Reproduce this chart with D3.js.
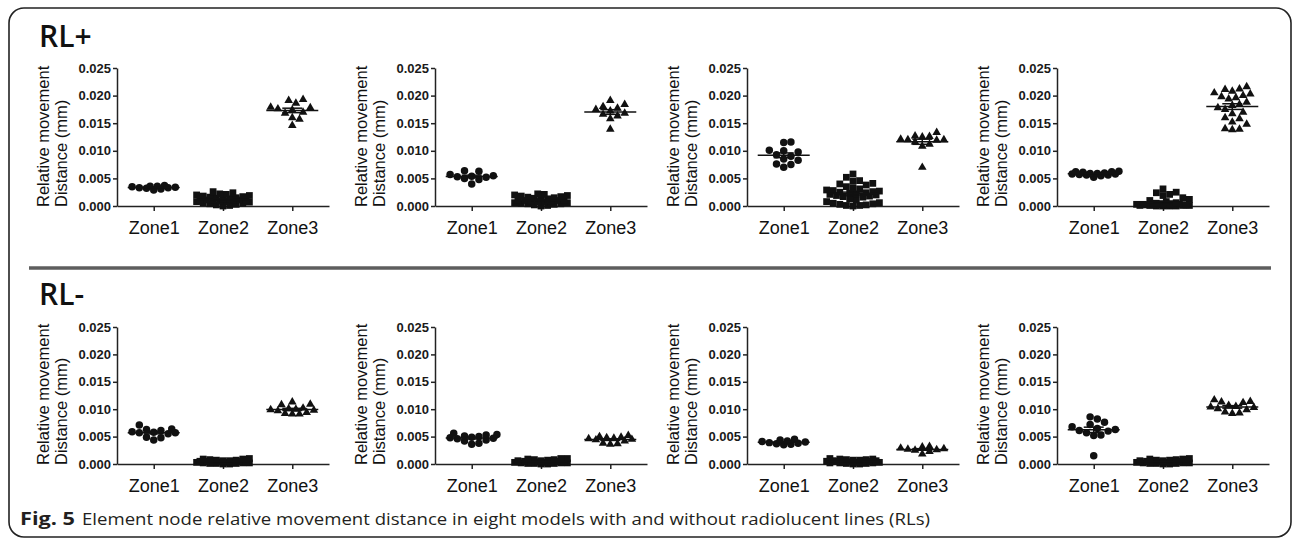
<!DOCTYPE html>
<html>
<head>
<meta charset="utf-8">
<script src="https://cdn.jsdelivr.net/npm/d3@7"></script>
<style>
  body { margin: 0; background: #fff; }
  svg { display: block; }
</style>
</head>
<body>
<div id="fig"></div>
<script>
// ---- labels ----
const zones = ["Zone1", "Zone2", "Zone3"];
const yTicks = [0, 0.005, 0.010, 0.015, 0.020, 0.025];
const rowTitles = ["RL+", "RL-"];
const yTitleLines = ["Relative movement", "Distance (mm)"];
const captionBold = "Fig. 5";
const captionText = "Element node relative movement distance in eight models with and without radiolucent lines (RLs)";

// ---- RL+ models (mm) ----
const rlp1Zone1 = [0.0033, 0.0034, 0.0036, 0.0031, 0.0029, 0.0035, 0.0037, 0.0033, 0.0032, 0.0036];
const rlp1Zone2 = [0.0026, 0.0024, 0.0022, 0.0021, 0.0020, 0.0019, 0.0018, 0.0017, 0.0016, 0.0015, 0.0014, 0.0013, 0.0013, 0.0012, 0.0012,
                   0.0011, 0.0011, 0.0010, 0.0010, 0.0009, 0.0008, 0.0008, 0.0007, 0.0006, 0.0005, 0.0004, 0.0003, 0.0002, 0.0001, 0.0000];
const rlp1Zone3 = [0.0193, 0.0191, 0.0186, 0.0179, 0.0178, 0.0176, 0.0174, 0.0170, 0.0168, 0.0160, 0.0157, 0.0146];

const rlp2Zone1 = [0.0064, 0.0063, 0.0057, 0.0055, 0.0054, 0.0053, 0.0052, 0.0050, 0.0048, 0.0040];
const rlp2Zone2 = [0.0022, 0.0021, 0.0020, 0.0019, 0.0018, 0.0017, 0.0016, 0.0015, 0.0014, 0.0013, 0.0012, 0.0011, 0.0011, 0.0010,
                   0.0010, 0.0009, 0.0009, 0.0008, 0.0007, 0.0006, 0.0006, 0.0005, 0.0004, 0.0004, 0.0003, 0.0002, 0.0001, 0.0000];
const rlp2Zone3 = [0.0191, 0.0184, 0.0180, 0.0177, 0.0175, 0.0172, 0.0168, 0.0166, 0.0163, 0.0158, 0.0139];

const rlp3Zone1 = [0.0116, 0.0115, 0.0101, 0.0100, 0.0098, 0.0093, 0.0090, 0.0085, 0.0083, 0.0076, 0.0075, 0.0070];
const rlp3Zone2 = [0.0058, 0.0052, 0.0046, 0.0045, 0.0041, 0.0040, 0.0038, 0.0035, 0.0033, 0.0031, 0.0029, 0.0028, 0.0027, 0.0026, 0.0025,
                   0.0024, 0.0023, 0.0022, 0.0021, 0.0020, 0.0019, 0.0018, 0.0017, 0.0016, 0.0013, 0.0011, 0.0008, 0.0006, 0.0005, 0.0004,
                   0.0003, 0.0002, 0.0001, 0.0001, 0.0000];
const rlp3Zone3 = [0.0133, 0.0127, 0.0126, 0.0125, 0.0121, 0.0120, 0.0120, 0.0119, 0.0116, 0.0112, 0.0108, 0.0070];

const rlp4Zone1 = [0.0063, 0.0062, 0.0062, 0.0061, 0.0060, 0.0059, 0.0059, 0.0058, 0.0057, 0.0056, 0.0055, 0.0056, 0.0058, 0.0052];
const rlp4Zone2 = [0.0031, 0.0025, 0.0024, 0.0021, 0.0019, 0.0015, 0.0012, 0.0010, 0.0008, 0.0006, 0.0005, 0.0004, 0.0004, 0.0003, 0.0003,
                   0.0002, 0.0002, 0.0002, 0.0001, 0.0001, 0.0001, 0.0000, 0.0000, 0.0000, 0.0001, 0.0002, 0.0003, 0.0000, 0.0001, 0.0002];
const rlp4Zone3 = [0.0216, 0.0212, 0.0211, 0.0208, 0.0205, 0.0203, 0.0200, 0.0198, 0.0196, 0.0194, 0.0188, 0.0184,
                   0.0182, 0.0178, 0.0175, 0.0170, 0.0167, 0.0160, 0.0158, 0.0152, 0.0148, 0.0140, 0.0139, 0.0138];

// ---- RL- models ----
const rlm1Zone1 = [0.0071, 0.0064, 0.0063, 0.0061, 0.0059, 0.0058, 0.0057, 0.0057, 0.0055, 0.0049, 0.0048, 0.0044];
const rlm1Zone2 = [0.0010, 0.0009, 0.0009, 0.0008, 0.0007, 0.0007, 0.0006, 0.0006, 0.0005, 0.0005, 0.0005, 0.0004, 0.0004,
                   0.0004, 0.0003, 0.0003, 0.0003, 0.0002, 0.0002, 0.0002, 0.0001, 0.0001, 0.0001, 0.0000, 0.0000];
const rlm1Zone3 = [0.0113, 0.0109, 0.0108, 0.0102, 0.0101, 0.0100, 0.0099, 0.0098, 0.0097, 0.0094, 0.0092, 0.0091, 0.0091];

const rlm2Zone1 = [0.0056, 0.0054, 0.0053, 0.0051, 0.0050, 0.0049, 0.0048, 0.0047, 0.0046, 0.0044, 0.0042, 0.0038, 0.0036];
const rlm2Zone2 = [0.0010, 0.0010, 0.0009, 0.0008, 0.0008, 0.0007, 0.0006, 0.0006, 0.0005, 0.0005, 0.0004, 0.0004, 0.0004,
                   0.0003, 0.0003, 0.0003, 0.0002, 0.0002, 0.0002, 0.0001, 0.0001, 0.0001, 0.0000, 0.0000];
const rlm2Zone3 = [0.0052, 0.0050, 0.0049, 0.0048, 0.0047, 0.0046, 0.0045, 0.0044, 0.0042, 0.0038, 0.0037, 0.0036];

const rlm3Zone1 = [0.0045, 0.0044, 0.0042, 0.0041, 0.0040, 0.0039, 0.0038, 0.0037, 0.0036, 0.0035];
const rlm3Zone2 = [0.0010, 0.0009, 0.0009, 0.0008, 0.0008, 0.0007, 0.0007, 0.0006, 0.0006, 0.0005, 0.0005, 0.0005, 0.0004,
                   0.0004, 0.0003, 0.0003, 0.0003, 0.0002, 0.0002, 0.0002, 0.0001, 0.0001, 0.0000, 0.0000];
const rlm3Zone3 = [0.0032, 0.0031, 0.0029, 0.0028, 0.0027, 0.0026, 0.0025, 0.0023, 0.0018];

const rlm4Zone1 = [0.0086, 0.0082, 0.0076, 0.0072, 0.0068, 0.0065, 0.0063, 0.0061, 0.0060, 0.0057, 0.0053, 0.0052, 0.0015];
const rlm4Zone2 = [0.0010, 0.0009, 0.0009, 0.0008, 0.0007, 0.0007, 0.0006, 0.0006, 0.0005, 0.0005, 0.0004, 0.0004, 0.0004,
                   0.0003, 0.0003, 0.0003, 0.0002, 0.0002, 0.0002, 0.0001, 0.0001, 0.0001, 0.0000, 0.0000];
const rlm4Zone3 = [0.0117, 0.0114, 0.0113, 0.0112, 0.0107, 0.0105, 0.0104, 0.0103, 0.0101, 0.0099, 0.0095, 0.0093, 0.0092];

const panels = [
  { row: 0, col: 0, groups: [rlp1Zone1, rlp1Zone2, rlp1Zone3] },
  { row: 0, col: 1, groups: [rlp2Zone1, rlp2Zone2, rlp2Zone3] },
  { row: 0, col: 2, groups: [rlp3Zone1, rlp3Zone2, rlp3Zone3] },
  { row: 0, col: 3, groups: [rlp4Zone1, rlp4Zone2, rlp4Zone3] },
  { row: 1, col: 0, groups: [rlm1Zone1, rlm1Zone2, rlm1Zone3] },
  { row: 1, col: 1, groups: [rlm2Zone1, rlm2Zone2, rlm2Zone3] },
  { row: 1, col: 2, groups: [rlm3Zone1, rlm3Zone2, rlm3Zone3] },
  { row: 1, col: 3, groups: [rlm4Zone1, rlm4Zone2, rlm4Zone3] }
];

// ---- layout ----
const W = 1292, H = 542;
const colX = [117, 435, 747, 1057];
const rowTop = [68, 327], rowBot = [206, 464];
const plotW = 212;
const axisFont = "'Liberation Sans', Arial, sans-serif";
const ink = "#111";

const svg = d3.select("#fig").append("svg").attr("width", W).attr("height", H);
svg.append("rect").attr("width", W).attr("height", H).attr("fill", "#fff");

// outer rounded frame
svg.append("rect")
  .attr("x", 9).attr("y", 8).attr("width", 1282).attr("height", 529)
  .attr("rx", 15).attr("ry", 15)
  .attr("fill", "none").attr("stroke", "#222").attr("stroke-width", 1.6);

// row titles
rowTitles.forEach((t, i) => {
  svg.append("text")
    .attr("x", 39).attr("y", i === 0 ? 47 : 305)
    .style("font-family", "'Open Sans', 'Noto Sans', sans-serif")
    .style("font-size", "30px").style("font-weight", 600)
    .attr("fill", "#111")
    .text(t);
});

// separator between the two rows
svg.append("line")
  .attr("x1", 29).attr("x2", 1271).attr("y1", 268).attr("y2", 268)
  .attr("stroke", "#5e5e5e").attr("stroke-width", 3.5);

// simple beeswarm: place each point at the nearest free horizontal offset
function swarm(values, y, maxOff, dist) {
  const pts = values.map(v => ({ v, py: y(v), dx: 0 }))
    .sort((a, b) => d3.ascending(a.v, b.v));
  const placed = [];
  const step = dist / 2;
  const cands = [0];
  for (let k = 1; k * step <= maxOff; k++) cands.push(k * step, -k * step);
  pts.forEach(p => {
    let best = 0, bestD = -1;
    for (const c of cands) {
      let minD = Infinity;
      for (const q of placed) {
        const d = Math.hypot(q.dx - c, q.py - p.py);
        if (d < minD) minD = d;
      }
      if (minD >= dist) { best = c; bestD = Infinity; break; }
      if (minD > bestD) { bestD = minD; best = c; }
    }
    p.dx = best;
    placed.push(p);
  });
  return pts;
}

const symbols = [
  d3.symbol(d3.symbolCircle, 44)(),
  d3.symbol(d3.symbolSquare, 46)(),
  d3.symbol(d3.symbolTriangle, 32)()
];

panels.forEach(p => {
  const g = svg.append("g").attr("transform", `translate(${colX[p.col]},0)`);
  const y = d3.scaleLinear().domain([0, 0.025]).range([rowBot[p.row], rowTop[p.row]]);
  const x = d3.scalePoint().domain(zones).range([0, plotW]).padding(0.53);

  // y axis
  const ya = g.append("g")
    .call(d3.axisLeft(y).tickValues(yTicks).tickFormat(d3.format(".3f"))
      .tickSize(4).tickSizeOuter(0).tickPadding(2));
  ya.selectAll("text")
    .style("font-family", axisFont).style("font-size", "13px").style("font-weight", 700)
    .attr("fill", "#1a1a1a");

  // x axis
  const xa = g.append("g").attr("transform", `translate(0,${rowBot[p.row]})`)
    .call(d3.axisBottom(x).tickSize(5).tickSizeOuter(0).tickPadding(10));
  xa.selectAll("text")
    .style("font-family", axisFont).style("font-size", "18px")
    .attr("fill", "#111");

  g.selectAll(".domain, .tick line").attr("stroke", "#222").attr("stroke-width", 1.5);

  // y title (two lines, bottom aligned)
  yTitleLines.forEach((t, i) => {
    g.append("text")
      .attr("transform", `translate(${i === 0 ? -74 : -56},${rowBot[p.row] + 1}) rotate(-90)`)
      .attr("dy", "0.35em")
      .style("font-family", axisFont).style("font-size", "16.5px")
      .attr("fill", "#111")
      .text(t);
  });

  // points, mean and SEM
  p.groups.forEach((vals, zi) => {
    const cx = x(zones[zi]);
    const pts = swarm(vals, y, 27, zi === 1 ? 6.6 : 7.2);
    g.append("g").selectAll("path")
      .data(pts)
      .join("path")
      .attr("d", symbols[zi])
      .attr("transform", d => `translate(${cx + d.dx},${d.py})`)
      .attr("fill", ink);

    const m = d3.mean(vals);
    const sem = d3.deviation(vals) / Math.sqrt(vals.length);
    const stat = g.append("g").attr("stroke", ink).attr("stroke-width", 1.5);
    stat.append("line").attr("x1", cx - 26).attr("x2", cx + 26)
      .attr("y1", y(m)).attr("y2", y(m));
    stat.append("line").attr("x1", cx).attr("x2", cx)
      .attr("y1", y(m - sem)).attr("y2", y(m + sem));
    [m - sem, m + sem].forEach(v => {
      stat.append("line").attr("x1", cx - 10).attr("x2", cx + 10)
        .attr("y1", y(v)).attr("y2", y(v));
    });
  });
});

// caption
const capFont = "'Open Sans', 'Noto Sans', sans-serif";
svg.append("text")
  .attr("x", 20).attr("y", 525)
  .style("font-family", capFont).style("font-size", "17px").style("font-weight", 700)
  .attr("fill", "#231f20")
  .attr("textLength", 55).attr("lengthAdjust", "spacingAndGlyphs")
  .text(captionBold);
svg.append("text")
  .attr("x", 82).attr("y", 525)
  .style("font-family", capFont).style("font-size", "17px")
  .attr("fill", "#231f20")
  .attr("textLength", 848).attr("lengthAdjust", "spacingAndGlyphs")
  .text(captionText);
</script>
</body>
</html>
